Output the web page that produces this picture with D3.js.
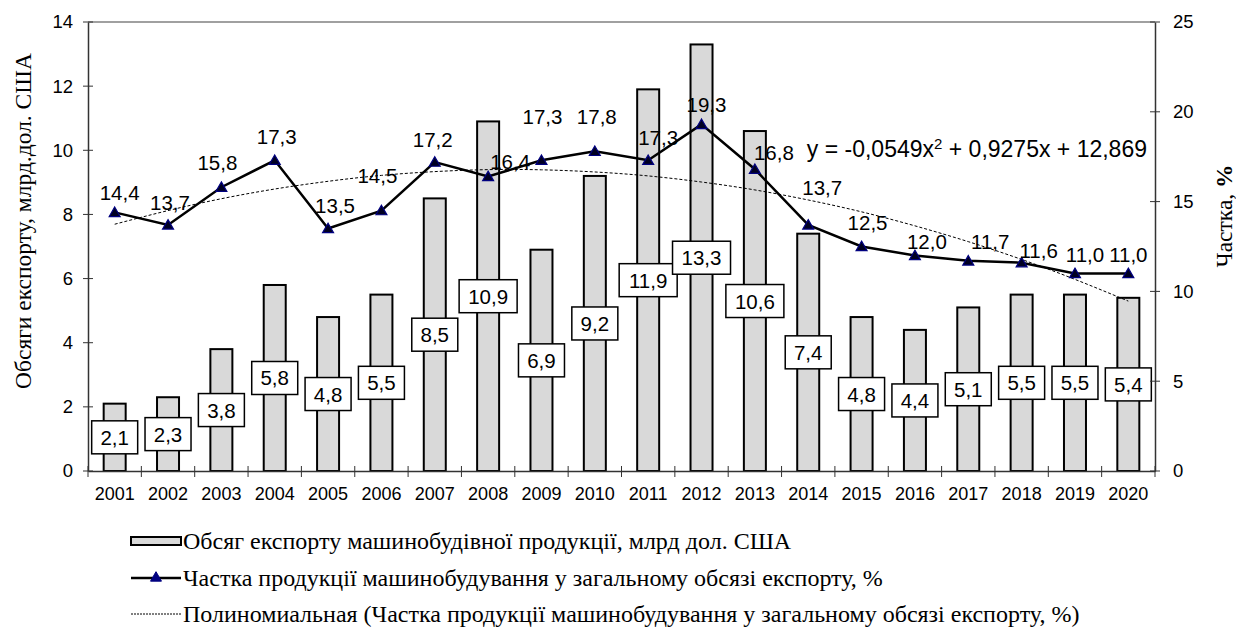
<!DOCTYPE html>
<html><head><meta charset="utf-8">
<script src="https://cdn.jsdelivr.net/npm/d3@7"></script>
<style>body{margin:0;background:#fff}svg{display:block}</style>
</head><body>
<svg id="c" width="1236" height="629"></svg>
<script>
const years = ["2001","2002","2003","2004","2005","2006","2007","2008","2009","2010","2011","2012","2013","2014","2015","2016","2017","2018","2019","2020"];
const exportVolume = [2.1,2.3,3.8,5.8,4.8,5.5,8.5,10.9,6.9,9.2,11.9,13.3,10.6,7.4,4.8,4.4,5.1,5.5,5.5,5.4];
const sharePct = [14.4,13.7,15.8,17.3,13.5,14.5,17.2,16.4,17.3,17.8,17.3,19.3,16.8,13.7,12.5,12.0,11.7,11.6,11.0,11.0];
const trendValues = [13.74,14.50,15.16,15.70,16.13,16.46,16.67,16.78,16.77,16.65,16.43,16.09,15.65,15.09,14.43,13.65,12.77,11.78,10.67,9.46];
const leftTicks = [0,2,4,6,8,10,12,14];
const rightTicks = [0,5,10,15,20,25];
const leftTitle = "Обсяги експорту, млрд.дол. США";
const rightTitle = "Частка, ";
const trendEquation = ["y = -0,0549x", "2", " + 0,9275x + 12,869"];
const legendLabels = ["Обсяг експорту машинобудівної продукції,  млрд дол. США","Частка продукції машинобудування у загальному обсязі  експорту, %","Полиномиальная (Частка продукції машинобудування у загальному обсязі експорту, %)"];

// layout: label offsets (px) of line data labels relative to their markers, as placed in the original
const lineLabelOffset = [[5,-19],[2,-22],[-4,-24],[2,-23],[7,-23],[-4,-35],[-2,-22],[22,-14],[1,-43],[2,-34],[10,-22],[5,-19],[19,-16],[14,-37],[6,-24],[12,-13],[22,-19],[17,-12],[10,-18],[0,-18]];

const fmt = v => v.toFixed(1).replace(".", ",");
const SANS = "'Liberation Sans', Arial, sans-serif";
const SERIF = "'Liberation Serif', 'Times New Roman', serif";

const svg = d3.select("#c");
const L = 88, R = 1155, T = 22, B = 471;

const x = d3.scaleBand().domain(years).range([L, R]).paddingInner(0).paddingOuter(0);
const yL = d3.scaleLinear().domain([0,14]).range([B, T]);
const yR = d3.scaleLinear().domain([0,25]).range([B, T]);
const cx = d => x(d) + x.bandwidth()/2;

// top border
svg.append("line").attr("x1",L).attr("x2",R).attr("y1",T).attr("y2",T).attr("stroke","#808080").attr("stroke-width",1.5);

// bars
const barW = 22;
svg.append("g").selectAll("rect").data(years).join("rect")
  .attr("x", (d)=>cx(d)-barW/2).attr("width", barW)
  .attr("y", (d,i)=>yL(exportVolume[i])).attr("height",(d,i)=>B-yL(exportVolume[i]))
  .attr("fill","#d9d9d9").attr("stroke","#000").attr("stroke-width",2);

// trend line
svg.append("path").datum(trendValues)
  .attr("d", d3.line().x((d,i)=>cx(years[i])).y(d=>yR(d)).curve(d3.curveNatural))
  .attr("fill","none").attr("stroke","#000").attr("stroke-width",1).attr("stroke-dasharray","3,2");

// share line
svg.append("path").datum(sharePct)
  .attr("d", d3.line().x((d,i)=>cx(years[i])).y(d=>yR(d)))
  .attr("fill","none").attr("stroke","#000").attr("stroke-width",2.5);

const tri = d3.symbol().type(d3.symbolTriangle).size(52);
svg.append("g").selectAll("path").data(sharePct).join("path")
  .attr("d", tri).attr("transform",(d,i)=>`translate(${cx(years[i])},${yR(d)+1})`)
  .attr("fill","#000022").attr("stroke","#000080").attr("stroke-width",1.2);

// line labels
svg.append("g").selectAll("text").data(sharePct).join("text")
  .attr("x",(d,i)=>cx(years[i]) + lineLabelOffset[i][0])
  .attr("y",(d,i)=>yR(d) + lineLabelOffset[i][1] + 7)
  .attr("text-anchor","middle").attr("font-family",SANS).attr("font-size",20.5).attr("fill","#000")
  .text(d=>fmt(d));

// bar labels with boxes
const bl = svg.append("g");
years.forEach((yr,i)=>{
  const v = exportVolume[i];
  const c = cx(yr), m = (yL(v)+B)/2;
  const t = fmt(v);
  const w = t.length > 3 ? 58 : 46;
  bl.append("rect").attr("x",c-w/2).attr("y",m-16.5).attr("width",w).attr("height",33)
    .attr("fill","#fff").attr("stroke","#000").attr("stroke-width",1.5);
  bl.append("text").attr("x",c).attr("y",m+7.5).attr("text-anchor","middle")
    .attr("font-family",SANS).attr("font-size",20.5).text(t);
});

// axes
const axL = svg.append("g").attr("transform",`translate(${L},0)`)
  .call(d3.axisLeft(yL).tickValues(leftTicks).tickSize(0).tickPadding(15));
axL.select(".domain").attr("stroke","#333").attr("stroke-width",1.5);
axL.selectAll("text").attr("font-family",SANS).attr("font-size",18.5).attr("fill","#000");
leftTicks.forEach(t=>svg.append("line").attr("x1",L-5).attr("x2",L+5).attr("y1",yL(t)).attr("y2",yL(t)).attr("stroke","#333").attr("stroke-width",1));

const axR = svg.append("g").attr("transform",`translate(${R},0)`)
  .call(d3.axisRight(yR).tickValues(rightTicks).tickSize(0).tickPadding(18));
axR.select(".domain").attr("stroke","#333").attr("stroke-width",1.5);
axR.selectAll("text").attr("font-family",SANS).attr("font-size",18.5).attr("fill","#000");
rightTicks.forEach(t=>svg.append("line").attr("x1",R-5).attr("x2",R+5).attr("y1",yR(t)).attr("y2",yR(t)).attr("stroke","#333").attr("stroke-width",1));

const axB = svg.append("g").attr("transform",`translate(0,${B})`)
  .call(d3.axisBottom(x).tickSize(0).tickPadding(16));
axB.select(".domain").attr("stroke","#333").attr("stroke-width",1.5);
axB.selectAll("text").attr("font-family",SANS).attr("font-size",18).attr("fill","#000");
years.forEach((yr)=>{
  const xx = x(yr);
  svg.append("line").attr("x1",xx).attr("x2",xx).attr("y1",B-5).attr("y2",B+6).attr("stroke","#333").attr("stroke-width",1);
});
svg.append("line").attr("x1",R).attr("x2",R).attr("y1",B-5).attr("y2",B+6).attr("stroke","#333");

// axis titles
svg.append("text").attr("transform",`translate(31,221) rotate(-90)`).attr("text-anchor","middle")
  .attr("font-family",SERIF).attr("font-size",23.5).text(leftTitle);
const rt = svg.append("text").attr("transform",`translate(1232,216) rotate(-90)`).attr("text-anchor","middle")
  .attr("font-family",SERIF).attr("font-size",23.5);
rt.append("tspan").text(rightTitle);
rt.append("tspan").attr("font-weight","bold").text("%");

// trend equation
const eq = svg.append("text").attr("x",1147).attr("y",157).attr("text-anchor","end")
  .attr("font-family",SANS).attr("font-size",23);
eq.append("tspan").text(trendEquation[0]);
eq.append("tspan").attr("font-size",15).attr("dy",-8).text(trendEquation[1]);
eq.append("tspan").attr("dy",8).text(trendEquation[2]);

// legend
const lg = svg.append("g");
const lx0 = 131, lx1 = 181, ly = [541,578,614];
lg.append("rect").attr("x",lx0).attr("y",ly[0]-4).attr("width",lx1-lx0).attr("height",8)
  .attr("fill","#d9d9d9").attr("stroke","#000").attr("stroke-width",2);
lg.append("line").attr("x1",lx0).attr("x2",lx1).attr("y1",ly[1]).attr("y2",ly[1]).attr("stroke","#000").attr("stroke-width",2.5);
lg.append("path").attr("d",tri).attr("transform",`translate(${(lx0+lx1)/2},${ly[1]})`).attr("fill","#000080").attr("stroke","#000080");
lg.append("line").attr("x1",lx0).attr("x2",lx1).attr("y1",ly[2]).attr("y2",ly[2]).attr("stroke","#000").attr("stroke-width",1).attr("stroke-dasharray","2,1");
legendLabels.forEach((t,i)=>{
  lg.append("text").attr("x",183).attr("y",ly[i]+8).attr("font-family",SERIF).attr("font-size",24).text(t);
});
</script>
</body></html>
